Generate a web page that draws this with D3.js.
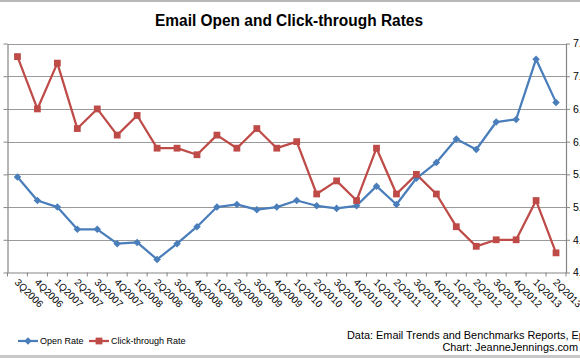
<!DOCTYPE html>
<html>
<head>
<meta charset="utf-8">
<script src="https://cdn.jsdelivr.net/npm/d3@7"></script>
<style>
  html, body { margin: 0; padding: 0; background: #fff; }
  svg { display: block; }
  text { font-family: "Liberation Sans", Arial, sans-serif; fill: #000; }
</style>
</head>
<body>
<svg id="chart" width="580" height="358"></svg>
<script>
const categories = ["3Q2006","4Q2006","1Q2007","2Q2007","3Q2007","4Q2007","1Q2008","2Q2008","3Q2008","4Q2008",
  "1Q2009","2Q2009","3Q2009","4Q2009","1Q2010","2Q2010","3Q2010","4Q2010","1Q2011","2Q2011","3Q2011","4Q2011",
  "1Q2012","2Q2012","3Q2012","4Q2012","1Q2013","2Q2013"];
const openRate = [22.3,20.5,20.0,18.3,18.3,17.2,17.3,16.0,17.2,18.5,20.0,20.2,19.8,20.0,20.5,20.1,19.9,20.1,21.6,20.2,
  22.2,23.4,25.2,24.4,26.5,26.7,31.3,28.0];
const clickRate = [7.3,6.5,7.2,6.2,6.5,6.1,6.4,5.9,5.9,5.8,6.1,5.9,6.2,5.9,6.0,5.2,5.4,5.1,5.9,5.2,
  5.5,5.2,4.7,4.4,4.5,4.5,5.1,4.3];
const openTicks = [15,17.5,20,22.5,25,27.5,30,32.5];
const clickTicks = [4,4.5,5,5.5,6,6.5,7,7.5];
const seriesNames = ["Open Rate","Click-through Rate"];
const titleText = "Email Open and Click-through Rates";
const sourceLines = ["Data: Email Trends and Benchmarks Reports, Epsilon","Chart: JeanneJennings.com"];

const blue = "#4a7ebb", red = "#be4b48", grid = "#9a9a9a", axisC = "#868686";
const svg = d3.select("#chart");
const pL = 7.5, pR = 566, pT = 43.5, pB = 272.5;

// frame lines
svg.append("rect").attr("x",0).attr("y",0).attr("width",580).attr("height",2).attr("fill","#b8b8b8");
svg.append("rect").attr("x",0).attr("y",355).attr("width",580).attr("height",3).attr("fill","#c8c8c8");

const x = d3.scaleBand().domain(categories).range([pL, pR]).padding(0);
const yL = d3.scaleLinear().domain([openTicks[0], openTicks[openTicks.length-1]]).range([pB, pT]);
const yR = d3.scaleLinear().domain([clickTicks[0], clickTicks[clickTicks.length-1]]).range([pB, pT]);
const cx = d => x(d) + x.bandwidth()/2;

// gridlines
svg.append("g").selectAll("line").data(clickTicks.slice(1)).join("line")
  .attr("x1", pL).attr("x2", pR).attr("y1", d => Math.round(yR(d))+0.5).attr("y2", d => Math.round(yR(d))+0.5)
  .attr("stroke", grid).attr("stroke-width", 1);

// left axis (no labels)
const gL = svg.append("g").attr("transform", `translate(${pL},0)`)
  .call(d3.axisLeft(yL).tickValues(openTicks).tickFormat("").tickSizeInner(4).tickSizeOuter(0));
// right axis
const gR = svg.append("g").attr("transform", `translate(${pR},0)`)
  .call(d3.axisRight(yR).tickValues(clickTicks).tickFormat(d => d.toFixed(1) + "%").tickSizeInner(4).tickSizeOuter(0).tickPadding(3));
// bottom axis
const gB = svg.append("g").attr("transform", `translate(0,${pB})`)
  .call(d3.axisBottom(x).tickSizeInner(0).tickSizeOuter(0).tickFormat(""));
[gL, gR, gB].forEach(g => {
  g.select(".domain").attr("stroke", axisC).attr("stroke-width", 1.2);
  g.selectAll(".tick line").attr("stroke", axisC);
});
gR.selectAll("text").attr("font-size", 10.5).attr("font-family", "Liberation Sans, Arial, sans-serif").attr("fill","#000");
// category boundary ticks
const bounds = categories.map(c => x(c)).concat([pR]);
svg.append("g").selectAll("line").data(bounds).join("line")
  .attr("x1", d => d).attr("x2", d => d).attr("y1", pB).attr("y2", pB + 4)
  .attr("stroke", axisC).attr("stroke-width", 1);
// rotated category labels
svg.append("g").selectAll("text").data(categories).join("text")
  .attr("transform", d => `translate(${cx(d)-1},${pB + 8}) rotate(45)`)
  .attr("dy", "0.35em").attr("font-size", 10).text(d => d);

// lines
const lineL = d3.line().x((d,i) => cx(categories[i])).y(d => yL(d));
const lineR = d3.line().x((d,i) => cx(categories[i])).y(d => yR(d));
svg.append("path").datum(openRate).attr("d", lineL).attr("fill","none").attr("stroke", blue).attr("stroke-width", 2.25).attr("stroke-linejoin","round");
svg.append("path").datum(clickRate).attr("d", lineR).attr("fill","none").attr("stroke", red).attr("stroke-width", 2.25).attr("stroke-linejoin","round");

const diamond = d3.symbol().type(d3.symbolDiamond2).size(36);
const square = d3.symbol().type(d3.symbolSquare).size(46);
svg.append("g").selectAll("path").data(openRate).join("path")
  .attr("transform", (d,i) => `translate(${cx(categories[i])},${yL(d)})`)
  .attr("d", diamond).attr("fill", blue);
svg.append("g").selectAll("path").data(clickRate).join("path")
  .attr("transform", (d,i) => `translate(${cx(categories[i])},${yR(d)})`)
  .attr("d", square).attr("fill", red);

// title
svg.append("text").attr("x", 289).attr("y", 26).attr("text-anchor","middle")
  .attr("font-family", "Lato, 'Liberation Sans', sans-serif").attr("font-weight","bold").attr("font-size", 16)
  .attr("textLength", 268).attr("lengthAdjust","spacingAndGlyphs").text(titleText);

// legend
const legY = 341;
const leg = [{name: seriesNames[0], color: blue, sym: diamond, x: 18}, {name: seriesNames[1], color: red, sym: square, x: 89}];
leg.forEach(l => {
  svg.append("line").attr("x1", l.x).attr("x2", l.x + 20).attr("y1", legY).attr("y2", legY).attr("stroke", l.color).attr("stroke-width", 2.25);
  svg.append("path").attr("transform", `translate(${l.x+10},${legY})`).attr("d", l.sym).attr("fill", l.color);
  svg.append("text").attr("x", l.x + 22).attr("y", legY).attr("dy","0.35em").attr("font-size", 9).text(l.name);
});

// source
svg.append("text").attr("x", 347).attr("y", 339).attr("font-size", 10.9).attr("fill","#222").text(sourceLines[0]);
svg.append("text").attr("x", 578).attr("y", 351).attr("text-anchor","end").attr("font-size", 10.9).attr("fill","#222").text(sourceLines[1]);
</script>
</body>
</html>
